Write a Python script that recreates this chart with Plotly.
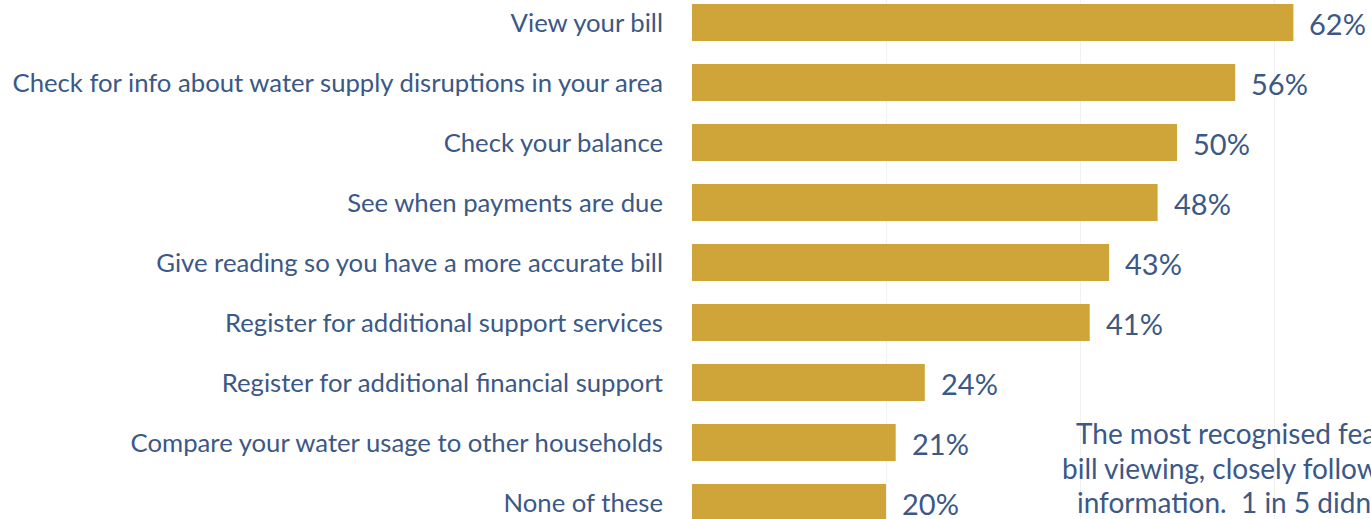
import plotly.graph_objects as go

# Survey results: share of respondents recognising each online account feature
features = [
    "View your bill",
    "Check for info about water supply disruptions in your area",
    "Check your balance",
    "See when payments are due",
    "Give reading so you have a more accurate bill",
    "Register for additional support services",
    "Register for additional financial support",
    "Compare your water usage to other households",
    "None of these",
]
shares = [62, 56, 50, 48, 43, 41, 24, 21, 20]
value_labels = [f"{v}%" for v in shares]

commentary = [
    "The most recognised features were",
    "bill viewing, closely followed by supply",
    "information.  1 in 5 didn't recognise any",
]

BAR = "#CFA53A"
INK = "#3B5886"
FONT = "Lato"

fig = go.Figure(
    go.Bar(
        x=shares,
        y=features,
        orientation="h",
        marker=dict(color=BAR, line=dict(width=0)),
        width=0.62,
        hoverinfo="skip",
    )
)

# value labels just beyond each bar end
for feat, v, lab in zip(features, shares, value_labels):
    fig.add_annotation(
        x=v, y=feat, xref="x", yref="y",
        text=lab, showarrow=False,
        xanchor="left", yanchor="middle",
        xshift=14, yshift=-1,
        font=dict(family=FONT, size=29, color=INK),
    )

# commentary block at the lower right, running off the right edge
line_left = [1074, 1060, 1075]
for i, line in enumerate(commentary):
    fig.add_annotation(
        x=(line_left[i] - 692) / (1371 - 692), y=1 - (433 + 34.5 * i) / 519,
        xref="x domain", yref="y domain",
        text=line, showarrow=False,
        xanchor="left", yanchor="middle",
        font=dict(family=FONT, size=28, color=INK),
    )

fig.update_layout(
    width=1371,
    height=519,
    margin=dict(l=692, r=0, t=0, b=0),
    paper_bgcolor="white",
    plot_bgcolor="white",
    showlegend=False,
    xaxis=dict(
        range=[0, 70],
        dtick=20,
        showgrid=True,
        gridcolor="#F1F1F1",
        gridwidth=1,
        zeroline=False,
        showticklabels=False,
        showline=False,
    ),
    yaxis=dict(
        categoryorder="array",
        categoryarray=features,
        range=[8.275, -0.375],
        showgrid=False,
        zeroline=False,
        showline=False,
        ticks="",
        ticklabelstandoff=28,
        tickfont=dict(family=FONT, size=25.7, color=INK),
    ),
)

fig.write_html("out.html")
